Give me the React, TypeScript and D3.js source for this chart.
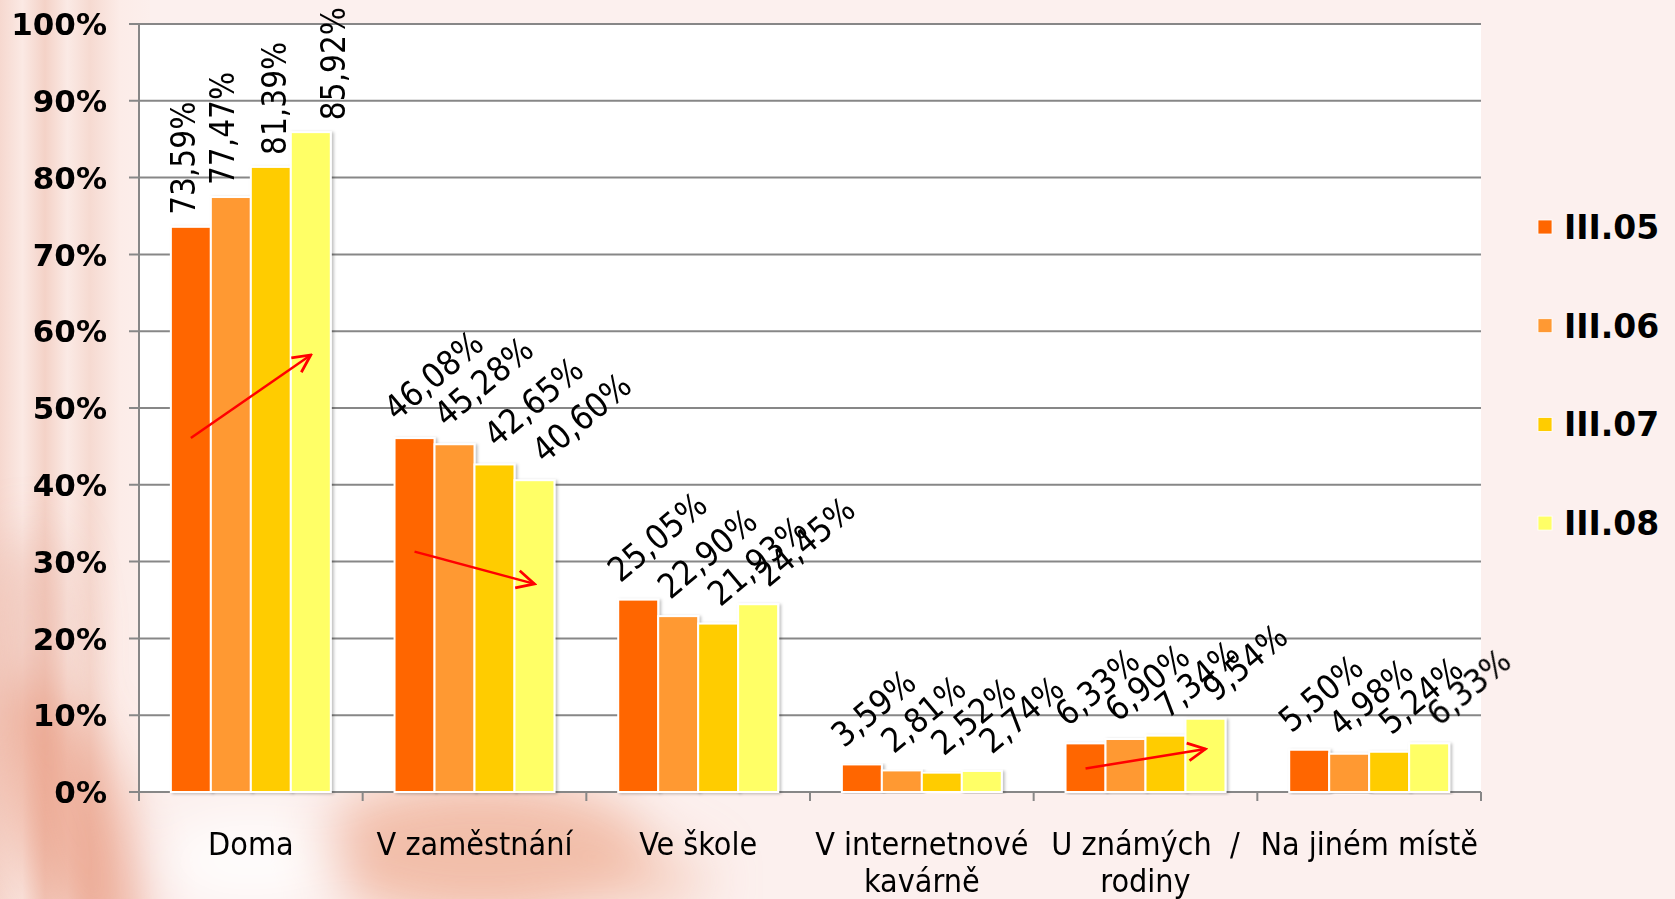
import * as d3 from 'd3';

const categories = ['Doma', 'V zaměstnání', 'Ve škole', 'V internetnové kavárně', 'U známých / rodiny', 'Na jiném místě'];
const categoryLines = [['Doma'], ['V zaměstnání'], ['Ve škole'], ['V internetnové', 'kavárně'], ['U známých  /', 'rodiny'], ['Na jiném místě']];
const seriesNames = ['III.05', 'III.06', 'III.07', 'III.08'];
const seriesColors = ['#ff6600', '#ff9933', '#ffcc00', '#ffff66'];
const values05 = [73.59, 46.08, 25.05, 3.59, 6.33, 5.5];
const values06 = [77.47, 45.28, 22.9, 2.81, 6.9, 4.98];
const values07 = [81.39, 42.65, 21.93, 2.52, 7.34, 5.24];
const values08 = [85.92, 40.6, 24.45, 2.74, 9.54, 6.33];
const yTicks = [0, 10, 20, 30, 40, 50, 60, 70, 80, 90, 100];
const labelAngles = [-90, -40, -40, -40, -40, -40];

// red trend arrows drawn over the bars (from first to last series)
const arrowCategories = ['Doma', 'V zaměstnání', 'U známých / rodiny'];
const arrowFrom = [46.1, 31.3, 3.05];
const arrowTo = [56.9, 27.1, 5.6];

const W = 1675;
const H = 899;
const plot = { left: 139, right: 1481, top: 24, bottom: 792 };

export default function App() {
  const seriesValues = [values05, values06, values07, values08];

  const x0 = d3.scaleBand<string>()
    .domain(categories)
    .range([plot.left, plot.right])
    .paddingInner(0.285)
    .paddingOuter(0.1425);
  const x1 = d3.scaleBand<string>()
    .domain(seriesNames)
    .range([0, x0.bandwidth()])
    .padding(0);
  const y = d3.scaleLinear().domain([0, 100]).range([plot.bottom, plot.top]);
  const step = x0.step();
  const fmt = (v: number) => d3.format('.2f')(v).replace('.', ',') + '%';

  // offsets of the rotated value labels, per series
  const slantShift = [-18, -8, 2, 10];
  const vertShift = [4, 3, 15, 34];
  const condensed = "'DejaVu Sans Condensed', 'DejaVu Sans', sans-serif";

  return (
    <svg width={W} height={H} style={{ position: 'absolute', left: 0, top: 0 }}>
      <defs>
        <filter id="blur" x="-50%" y="-50%" width="200%" height="200%">
          <feGaussianBlur stdDeviation="26" />
        </filter>
        <filter id="shadow" x="-20%" y="-5%" width="140%" height="110%">
          <feDropShadow dx="2" dy="1" stdDeviation="1.5" floodColor="#000" floodOpacity="0.25" />
        </filter>
        <linearGradient id="stripes" x1="0" x2="1" y1="0" y2="0">
          <stop offset="0" stopColor="#f6d8cf" />
          <stop offset="0.15" stopColor="#fbe9e4" />
          <stop offset="0.3" stopColor="#f4d2c7" />
          <stop offset="0.45" stopColor="#fbeae5" />
          <stop offset="0.6" stopColor="#f6dad1" />
          <stop offset="0.8" stopColor="#fcece8" />
          <stop offset="1" stopColor="#fcefec" />
        </linearGradient>
        <marker id="head" viewBox="0 0 20 20" refX="18" refY="10" markerWidth="22" markerHeight="22"
          markerUnits="userSpaceOnUse" orient="auto">
          <path d="M2,2 L18,10 L2,18" fill="none" stroke="#ff0000" strokeWidth="2.5" />
        </marker>
      </defs>

      {/* background */}
      <rect x={0} y={0} width={W} height={H} fill="#fcf0ee" />
      <rect x={0} y={0} width={150} height={H} fill="url(#stripes)" />
      <g filter="url(#blur)">
        <ellipse cx={30} cy={640} rx={40} ry={110} fill="#eab0a0" opacity={0.55} />
        <ellipse cx={70} cy={820} rx={55} ry={150} fill="#e89a80" opacity={0.7} transform="rotate(-20 70 820)" />
        <ellipse cx={480} cy={850} rx={170} ry={70} fill="#eca386" opacity={0.65} />
        <ellipse cx={250} cy={860} rx={90} ry={45} fill="#ffffff" opacity={0.8} />
        <ellipse cx={650} cy={880} rx={60} ry={35} fill="#f2bba6" opacity={0.5} />
      </g>

      {/* plot area */}
      <rect x={plot.left} y={plot.top} width={plot.right - plot.left} height={plot.bottom - plot.top} fill="#ffffff" />

      {yTicks.map(t => (
        <g key={t}>
          <line x1={plot.left - 10} x2={plot.right} y1={y(t)} y2={y(t)} stroke="#878787" strokeWidth={2} />
          <text x={107} y={y(t)} dy="0.36em" textAnchor="end" fontFamily="'DejaVu Sans', sans-serif"
            fontWeight="bold" fontSize={31} fill="#000">{t}%</text>
        </g>
      ))}
      <line x1={plot.left} x2={plot.left} y1={plot.top} y2={plot.bottom} stroke="#878787" strokeWidth={2} />
      {d3.range(categories.length + 1).map(i => (
        <line key={i} x1={plot.left + i * step} x2={plot.left + i * step} y1={plot.bottom} y2={plot.bottom + 9}
          stroke="#878787" strokeWidth={2} />
      ))}

      {/* bars */}
      {categories.map((c, ci) => (
        <g key={c} transform={`translate(${x0(c)},0)`}>
          {seriesNames.map((s, si) => {
            const v = seriesValues[si][ci];
            return (
              <rect key={s} x={x1(s)} y={y(v)} width={x1.bandwidth()} height={y(0) - y(v)}
                fill={seriesColors[si]} stroke="#ffffff" strokeWidth={2} filter="url(#shadow)" />
            );
          })}
        </g>
      ))}

      {/* data labels */}
      {categories.map((c, ci) => seriesNames.map((s, si) => {
        const v = seriesValues[si][ci];
        const cx = (x0(c) as number) + (x1(s) as number) + x1.bandwidth() / 2;
        const ang = labelAngles[ci];
        const vertical = ang === -90;
        const tx = vertical ? cx + vertShift[si] : cx + slantShift[si];
        const ty = vertical ? y(v) - 12 : y(v) - 16;
        return (
          <text key={c + s} transform={`translate(${tx},${ty}) rotate(${ang})`} textAnchor="start"
            fontFamily={condensed} fontSize={vertical ? 33 : 34} fill="#000">{fmt(v)}</text>
        );
      }))}

      {/* trend arrows */}
      {arrowCategories.map((c, i) => {
        const xa = (x0(c) as number) + (x1(seriesNames[0]) as number) + x1.bandwidth() / 2;
        const xb = (x0(c) as number) + (x1(seriesNames[3]) as number) + x1.bandwidth() / 2;
        return (
          <line key={c} x1={xa} y1={y(arrowFrom[i])} x2={xb} y2={y(arrowTo[i])}
            stroke="#ff0000" strokeWidth={2.5} markerEnd="url(#head)" />
        );
      })}

      {/* category labels */}
      {categories.map((c, ci) => (
        <text key={c} x={(x0(c) as number) + x0.bandwidth() / 2} y={855} textAnchor="middle"
          fontFamily={condensed} fontSize={32} fill="#000" style={{ whiteSpace: 'pre' }}>
          {categoryLines[ci].map((ln, li) => (
            <tspan key={li} x={(x0(c) as number) + x0.bandwidth() / 2} dy={li === 0 ? 0 : 37}>{ln}</tspan>
          ))}
        </text>
      ))}

      {/* legend */}
      {seriesNames.map((s, i) => (
        <g key={s} transform={`translate(1538,${227 + i * 98.7})`}>
          <rect x={0} y={-7} width={14} height={14} fill={seriesColors[i]} stroke="#fff" strokeWidth={0.8} />
          <text x={26} y={0} dy="0.36em" fontFamily="'DejaVu Sans', sans-serif" fontWeight="bold"
            fontSize={33} fill="#000">{s}</text>
        </g>
      ))}
    </svg>
  );
}
